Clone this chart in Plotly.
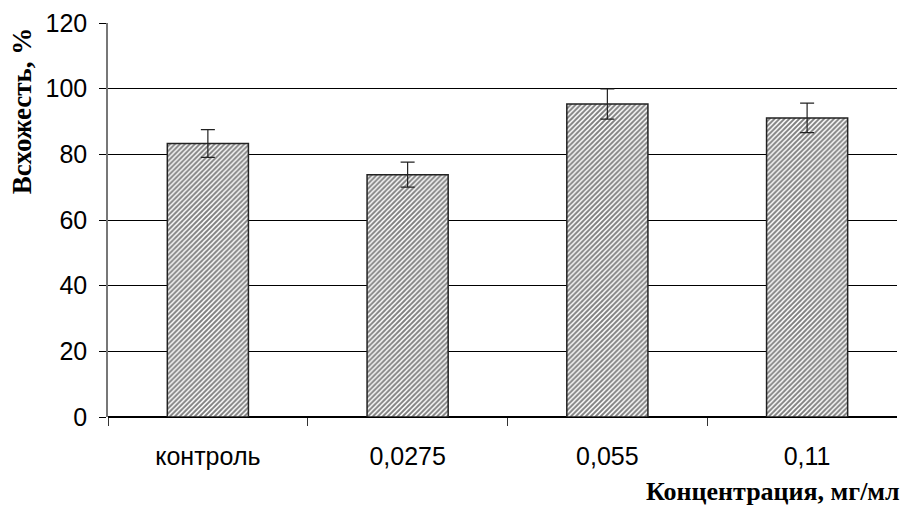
import plotly.graph_objects as go

categories = ["контроль", "0,0275", "0,055", "0,11"]
values = [83.3, 73.8, 95.3, 91.1]
errors = [4.2, 3.8, 4.6, 4.5]
y_ticks = [0, 20, 40, 60, 80, 100, 120]

fig = go.Figure()
fig.add_trace(go.Bar(
    x=categories,
    y=values,
    error_y=dict(type="data", array=errors, visible=True, color="#222222", thickness=1.2, width=7),
    marker=dict(
        color="white",
        line=dict(color="#222222", width=1.5),
        pattern=dict(shape="/", fgcolor="#000000", bgcolor="white", size=3.5, solidity=0.55),
    ),
    showlegend=False,
))

fig.update_layout(
    width=907, height=505,
    margin=dict(l=108, r=10, t=23, b=88, autoexpand=False),
    paper_bgcolor="white", plot_bgcolor="white",
    bargap=0.594,
    font=dict(family="Liberation Sans, Arial, sans-serif", color="black"),
    xaxis=dict(
        type="category",
        range=[-0.5, 3.45],
        tickson="boundaries",
        ticks="outside", ticklen=8, tickcolor="#333333", tickwidth=1,
        showline=False, showgrid=False, zeroline=False,
        tickfont=dict(size=25, family="Liberation Sans, Arial, sans-serif"),
        ticklabelstandoff=22,
        automargin=False,
    ),
    yaxis=dict(
        range=[0, 120],
        tickvals=y_ticks,
        ticktext=[str(v) for v in y_ticks],
        ticks="outside", ticklen=7, tickcolor="black", tickwidth=1,
        showline=True, linecolor="#777777", linewidth=1.5,
        showgrid=True, gridcolor="black", gridwidth=1,
        zeroline=True, zerolinecolor="black", zerolinewidth=1.5,
        tickfont=dict(size=25, family="Liberation Sans, Arial, sans-serif"),
        ticklabelstandoff=7,
        automargin=False,
    ),
    annotations=[
        dict(text="<b>Всхожесть, %</b>", textangle=-90, xref="paper", yref="paper",
             x=-0.109, y=0.7787, xanchor="center", yanchor="middle", showarrow=False,
             font=dict(family="Liberation Serif, Times New Roman, serif", size=27, color="black")),
        dict(text="<b>Концентрация, мг/мл</b>", xref="paper", yref="paper",
             x=1.0063, y=-0.19, xanchor="right", yanchor="middle", showarrow=False,
             font=dict(family="Liberation Serif, Times New Roman, serif", size=26, color="black")),
    ],
)

fig.write_html("out.html", config={"displayModeBar": False},
               post_script="document.body.style.margin='0';document.body.style.padding='0';")
